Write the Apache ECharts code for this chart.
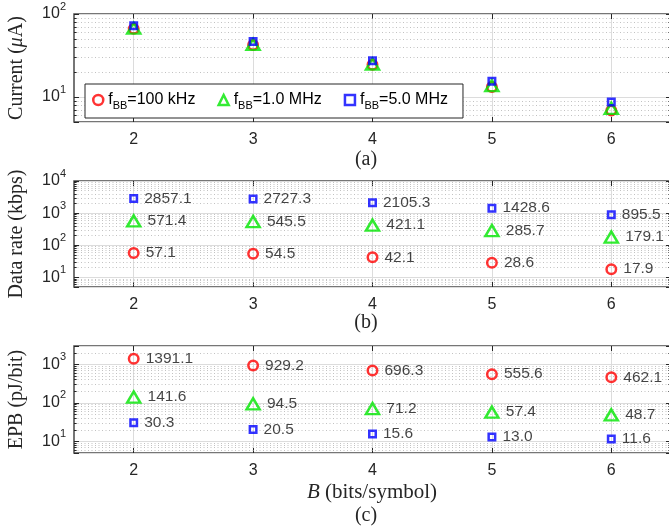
<!DOCTYPE html>
<html><head><meta charset="utf-8">
<script src="https://cdn.jsdelivr.net/npm/echarts@6/dist/echarts.min.js"></script>
<style>html,body{margin:0;padding:0;background:#fff}#c{width:669px;height:529px}</style>
</head><body><div id="c"></div>
<script>
// ---- data ----
const bits = [2, 3, 4, 5, 6];
const seriesNames = ['100 kHz', '1.0 MHz', '5.0 MHz'];
const currentRed = [66.2, 42.2, 24.4, 13.2, 6.9];
const currentGreen = [67.4, 43.0, 25.0, 13.7, 7.3];
const currentBlue = [72.2, 46.6, 27.4, 15.5, 8.7];
const rateRed = [57.1, 54.5, 42.1, 28.6, 17.9];
const rateGreen = [571.4, 545.5, 421.1, 285.7, 179.1];
const rateBlue = [2857.1, 2727.3, 2105.3, 1428.6, 895.5];
const epbRed = [1391.1, 929.2, 696.3, 555.6, 462.1];
const epbGreen = [141.6, 94.5, 71.2, 57.4, 48.7];
const epbBlue = [30.3, 20.5, 15.6, 13.0, 11.6];
const xTicks = [2, 3, 4, 5, 6];
const xRange = [1.5, 6.5];
const yRangeA = [5, 100];
const yRangeB = [5, 10000];
const yRangeC = [5, 3000];
const minorA = [6, 7, 8, 9, 20, 30, 40, 50, 60, 70, 80, 90];
const minorB = [6, 7, 8, 9, 20, 30, 40, 50, 60, 70, 80, 90, 200, 300, 400, 500, 600, 700, 800, 900, 2000, 3000, 4000, 5000, 6000, 7000, 8000, 9000];
const minorC = [6, 7, 8, 9, 20, 30, 40, 50, 60, 70, 80, 90, 200, 300, 400, 500, 600, 700, 800, 900, 2000];
const yTitles = ['Current', 'Data rate (kbps)', 'EPB (pJ/bit)'];
const panelTags = ['(a)', '(b)', '(c)'];

// ---- styling ----
const SANS = 'Liberation Sans';
const SERIF = 'Liberation Serif';
const TXT = '#262626';
const colors = ['#ff0000', '#00e600', '#0000ff'];
const grids = [
  {left: 74, top: 14, width: 597, height: 108},
  {left: 74, top: 181, width: 597, height: 106},
  {left: 74, top: 346, width: 597, height: 107}
];
const yRanges = [yRangeA, yRangeB, yRangeC];
const minors = [minorA, minorB, minorC];

function powLabel(v) {
  const e = Math.round(Math.log10(v));
  if (Math.abs(Math.pow(10, e) - v) / v > 1e-6) return '';
  return '{b|10}{s|' + e + '}';
}
const powRich = {
  b: {fontSize: 16, fontFamily: SANS, color: TXT, lineHeight: 26},
  s: {fontSize: 11, fontFamily: SANS, color: TXT, lineHeight: 12, verticalAlign: 'top'}
};

const xAxes = [], yAxes = [];
grids.forEach((g, i) => {
  xAxes.push({
    gridIndex: i, type: 'value', min: xRange[0], max: xRange[1],
    axisLine: {show: false},
    axisTick: {inside: true, length: 5, customValues: xTicks, lineStyle: {color: TXT}},
    axisLabel: {customValues: xTicks, fontSize: 16, fontFamily: SANS, color: TXT, margin: 10},
    splitLine: {show: true, lineStyle: {color: '#dcdcdc', width: 1}}
  });
  xAxes.push({
    gridIndex: i, type: 'value', position: 'top', min: xRange[0], max: xRange[1],
    axisLine: {show: false},
    axisTick: {inside: true, length: 5, customValues: xTicks, lineStyle: {color: TXT}},
    axisLabel: {show: false}, splitLine: {show: false}
  });
  const nameRich = {
    r: {fontSize: 20, fontFamily: SERIF, color: TXT},
    i: {fontSize: 20, fontFamily: SERIF, fontStyle: 'italic', color: TXT}
  };
  yAxes.push({
    gridIndex: i, type: 'log', logBase: 10, min: yRanges[i][0], max: yRanges[i][1],
    name: i === 0 ? '{r|Current (}{i|μ}{r|A)}' : '{r|' + yTitles[i] + '}',
    nameLocation: 'middle', nameGap: 47, nameTextStyle: {rich: nameRich},
    axisLine: {show: false},
    axisTick: {inside: true, length: 5, lineStyle: {color: TXT}},
    axisLabel: {formatter: powLabel, rich: powRich, margin: 8},
    splitLine: {show: true, lineStyle: {color: '#dcdcdc', width: 1}}
  });
  yAxes.push({
    gridIndex: i, type: 'log', logBase: 10, min: yRanges[i][0], max: yRanges[i][1], position: 'right',
    axisLine: {show: false},
    axisTick: {inside: true, length: 5, lineStyle: {color: TXT}},
    axisLabel: {show: false}, splitLine: {show: false}
  });
});

const series = [];
// minor grid lines and minor ticks
minors.forEach((m, i) => {
  series.push({
    type: 'line', data: [], xAxisIndex: 2 * i, yAxisIndex: 2 * i, z: 1, silent: true,
    markLine: {
      silent: true, symbol: ['none', 'none'], label: {show: false}, animation: false,
      lineStyle: {type: [1, 2.5], color: '#c2c2c2', width: 1},
      emphasis: {disabled: true},
      data: m.map(v => ({yAxis: v}))
    }
  });
  const tickLen = 0.022;
  const segs = [];
  m.forEach(v => {
    segs.push([{coord: [xRange[0], v]}, {coord: [xRange[0] + tickLen, v]}]);
    segs.push([{coord: [xRange[1] - tickLen, v]}, {coord: [xRange[1], v]}]);
  });
  series.push({
    type: 'line', data: [], xAxisIndex: 2 * i, yAxisIndex: 2 * i, z: 3, silent: true,
    markLine: {
      silent: true, symbol: ['none', 'none'], label: {show: false}, animation: false,
      lineStyle: {type: 'solid', color: TXT, width: 1},
      emphasis: {disabled: true},
      data: segs
    }
  });
});

const panelData = [
  [currentRed, currentGreen, currentBlue],
  [rateRed, rateGreen, rateBlue],
  [epbRed, epbGreen, epbBlue]
];
const symbols = ['circle', 'triangle', 'rect'];
const symSizes = [9.5, [13, 11], 6.5];
panelData.forEach((arrs, i) => {
  arrs.forEach((arr, k) => {
    series.push({
      name: seriesNames[k], type: 'scatter',
      xAxisIndex: 2 * i, yAxisIndex: 2 * i, z: 5 + k,
      symbol: symbols[k], symbolSize: symSizes[k],
      itemStyle: {color: 'rgba(255,255,255,0)', borderColor: colors[k], borderWidth: 2.5},
      emphasis: {disabled: true},
      label: {
        show: i > 0, position: 'right', distance: 6,
        formatter: p => p.value[1].toFixed(1),
        fontSize: 15.5, fontFamily: SANS, color: '#141414'
      },
      data: bits.map((b, j) => [b, arr[j]])
    });
  });
});

const graphics = [];
const tagY = [160, 323, 516];
panelTags.forEach((t, i) => {
  graphics.push({type: 'text', x: 366, y: tagY[i], style: {text: t, font: '20px "Liberation Serif"', fill: TXT, align: 'center', verticalAlign: 'middle'}});
});
graphics.push({type: 'text', x: 372, y: 492, style: {
  text: '{i|B}{r| (bits/symbol)}', align: 'center', verticalAlign: 'middle',
  rich: {i: {font: 'italic 21px "Liberation Serif"', fill: TXT}, r: {font: '21px "Liberation Serif"', fill: TXT}}
}});

const chart = echarts.init(document.getElementById('c'), null, {renderer: 'canvas'});
chart.setOption({
  animation: false,
  backgroundColor: '#fff',
  grid: grids.map(g => Object.assign({show: true, outerBoundsMode: 'none', containLabel: false, borderColor: '#4a4a4a', borderWidth: 1.5, backgroundColor: 'transparent'}, g)),
  xAxis: xAxes,
  yAxis: yAxes,
  legend: {
    left: 85, top: 84, orient: 'horizontal', z: 10,
    data: seriesNames,
    backgroundColor: '#fff', borderColor: TXT, borderWidth: 1,
    padding: [8, 15, 7, 7], itemWidth: 10, itemHeight: 10, itemGap: 22,
    itemStyle: {borderWidth: 2.5},
    formatter: n => '{f|f}{s|BB}{t|=' + n + '}',
    textStyle: {
      color: '#000',
      rich: {
        f: {fontSize: 16, fontFamily: SANS, color: '#000', lineHeight: 22},
        s: {fontSize: 11, fontFamily: SANS, color: '#000', lineHeight: 12, verticalAlign: 'bottom'},
        t: {fontSize: 16, fontFamily: SANS, color: '#000', lineHeight: 22}
      }
    }
  },
  graphic: graphics,
  series: series
});
</script>
</body></html>
